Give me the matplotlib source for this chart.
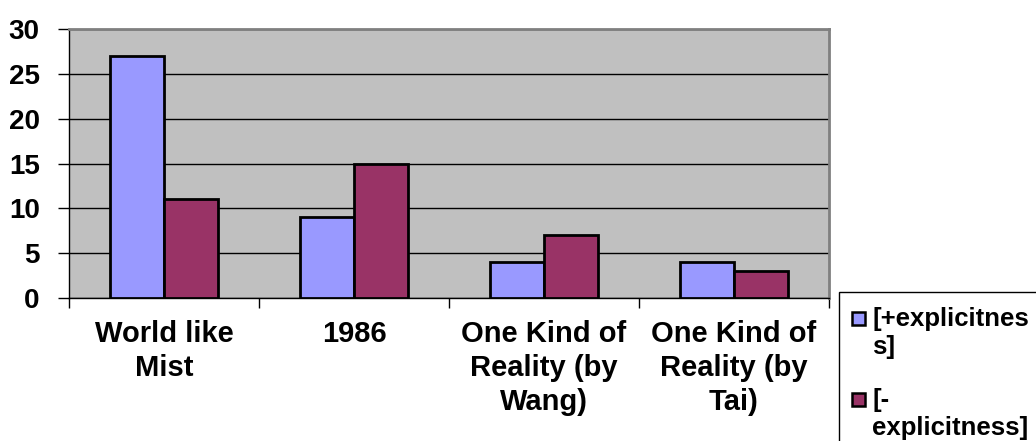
import matplotlib
matplotlib.use("Agg")
import matplotlib.pyplot as plt
from matplotlib.patches import Rectangle
import numpy as np

categories = ["World like\nMist", "1986", "One Kind of\nReality (by\nWang)", "One Kind of\nReality (by\nTai)"]
plus_explicit = [27, 9, 4, 4]
minus_explicit = [11, 15, 7, 3]
series_names = ["[+explicitnes\ns]", "[-\nexplicitness]"]
yticks = [0, 5, 10, 15, 20, 25, 30]

BLUE = "#9999FF"
MAROON = "#993366"
PLOT_BG = "#C0C0C0"

W, H = 1036, 441
plt.rcParams["font.family"] = ["Liberation Sans", "DejaVu Sans"]
plt.rcParams["font.weight"] = "bold"

fig = plt.figure(figsize=(W / 100, H / 100), dpi=100)
fig.patch.set_facecolor("white")


def fx(px):
    return px / W


def fy(py):
    return (H - py) / H


x0, x1, ytop, ybot = 69, 829, 29, 298
ax = fig.add_axes([fx(x0), fy(ybot), (x1 - x0) / W, (ybot - ytop) / H])
ax.set_facecolor(PLOT_BG)

x = np.arange(len(categories))
bw = 0.284
ax.bar(x - bw / 2, plus_explicit, bw, color=BLUE, edgecolor="black", linewidth=2, zorder=3)
ax.bar(x + bw / 2, minus_explicit, bw, color=MAROON, edgecolor="black", linewidth=2, zorder=3)

ax.set_xlim(-0.5, len(categories) - 0.5)
ax.set_ylim(0, 30)
ax.set_yticks(yticks)
ax.set_yticklabels([str(v) for v in yticks], fontsize=20, fontweight="bold")
ax.yaxis.grid(True, color="black", linewidth=1, zorder=1)
ax.set_axisbelow(True)

ax.set_xticks(np.arange(len(categories) + 1) - 0.5)
ax.set_xticklabels([])
ax.tick_params(axis="x", direction="out", length=7, width=1, color="black")
ax.tick_params(axis="y", direction="out", length=8, width=1, color="black", pad=13)

# category names under each group, positioned in pixels below the axis
for i, lab in enumerate(categories):
    cx = x0 + (i + 0.5) * (x1 - x0) / len(categories)
    fig.text(fx(cx), fy(320), lab, ha="center", va="top", fontsize=21,
             fontweight="bold", linespacing=1.28)

for side in ("left", "bottom"):
    ax.spines[side].set_color("black")
    ax.spines[side].set_linewidth(1)
for side in ("top", "right"):
    ax.spines[side].set_color("#808080")
    ax.spines[side].set_linewidth(2)

# legend box
fig.add_artist(Rectangle((fx(839), fy(445)), fx(1040) - fx(839), fy(292) - fy(445),
                         transform=fig.transFigure, facecolor="white", edgecolor="black",
                         linewidth=1))
legend_rows = [(BLUE, 318, 307, series_names[0]), (MAROON, 399, 388, series_names[1])]
for color, yc, ytxt, name in legend_rows:
    fig.add_artist(Rectangle((fx(852), fy(yc + 6.5)), 13 / W, 13 / H,
                             transform=fig.transFigure, facecolor=color, edgecolor="black",
                             linewidth=1.8))
    fig.text(fx(872), fy(ytxt), name, ha="left", va="top", fontsize=18.5,
             fontweight="bold", linespacing=1.2)

fig.savefig("out.png", dpi=100, facecolor="white")
